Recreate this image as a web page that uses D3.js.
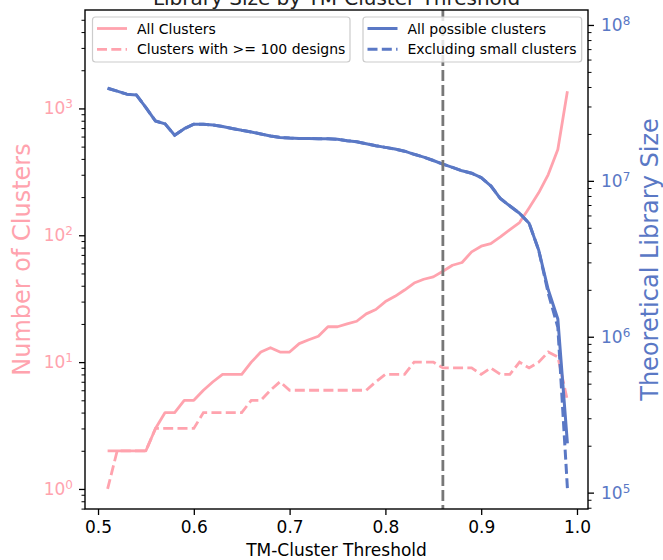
<!DOCTYPE html>
<html>
<head>
<meta charset="utf-8">
<script src="https://cdn.jsdelivr.net/npm/d3@7"></script>
<style>
body {margin:0;background:#fff;}
svg text {font-family:"DejaVu Sans", sans-serif;}
</style>
</head>
<body>
<svg id="chart" width="663" height="560"></svg>
<script>
// data
var thresholds = [0.51, 0.52, 0.53, 0.54, 0.55, 0.56, 0.57, 0.58, 0.59, 0.60,
	0.61, 0.62, 0.63, 0.64, 0.65, 0.66, 0.67, 0.68, 0.69, 0.70,
	0.71, 0.72, 0.73, 0.74, 0.75, 0.76, 0.77, 0.78, 0.79, 0.80,
	0.81, 0.82, 0.83, 0.84, 0.85, 0.86, 0.87, 0.88, 0.89, 0.90,
	0.91, 0.92, 0.93, 0.94, 0.95, 0.96, 0.97, 0.98, 0.99];
var allClusters = [2, 2, 2, 2, 2, 3, 4, 4, 5, 5,
	6, 7, 8, 8, 8, 10, 12, 13, 12, 12,
	14, 15, 16, 19, 19, 20, 21, 24, 26, 30,
	33, 37, 42, 45, 47, 52, 58, 61, 74, 82,
	86, 97, 111, 126, 164, 216, 301, 474, 1368];
var bigClusters = [1, 2, 2, 2, 2, 3, 3, 3, 3, 3,
	4, 4, 4, 4, 4, 5, 5, 6, 7, 6,
	6, 6, 6, 6, 6, 6, 6, 6, 7, 8,
	8, 8, 10, 10, 10, 9, 9, 9, 9, 8,
	9, 8, 8, 10, 9, 10, 12, 11, 5];
var allLibrary = [3.93e7, 3.76e7, 3.6e7, 3.56e7, 2.95e7, 2.42e7, 2.32e7, 1.96e7, 2.16e7, 2.31e7,
	2.31e7, 2.28e7, 2.23e7, 2.17e7, 2.11e7, 2.06e7, 2.0e7, 1.94e7, 1.9e7, 1.88e7,
	1.87e7, 1.87e7, 1.86e7, 1.86e7, 1.85e7, 1.81e7, 1.78e7, 1.73e7, 1.68e7, 1.64e7,
	1.6e7, 1.55e7, 1.48e7, 1.42e7, 1.35e7, 1.28e7, 1.22e7, 1.16e7, 1.12e7, 1.05e7,
	9.3e6, 7.7e6, 6.9e6, 6.2e6, 5.35e6, 3.6e6, 2.0e6, 1.3e6, 2.07e5];
var exclLibrary = [3.93e7, 3.76e7, 3.6e7, 3.56e7, 2.95e7, 2.42e7, 2.32e7, 1.96e7, 2.16e7, 2.31e7,
	2.31e7, 2.28e7, 2.23e7, 2.17e7, 2.11e7, 2.06e7, 2.0e7, 1.94e7, 1.9e7, 1.88e7,
	1.87e7, 1.87e7, 1.86e7, 1.86e7, 1.85e7, 1.81e7, 1.78e7, 1.73e7, 1.68e7, 1.64e7,
	1.6e7, 1.55e7, 1.48e7, 1.42e7, 1.35e7, 1.28e7, 1.22e7, 1.16e7, 1.12e7, 1.05e7,
	9.3e6, 7.7e6, 6.9e6, 6.2e6, 5.35e6, 3.6e6, 1.9e6, 1.15e6, 1.07e5];
var xTicks = [0.5, 0.6, 0.7, 0.8, 0.9, 1.0];
var leftTicks = [1, 10, 100, 1000];
var rightTicks = [1e5, 1e6, 1e7, 1e8];
var chosenThreshold = 0.86;

var pink = "#ffa3ae",
	blue = "#5a78c5";

// plot box (note: "top" is reserved on window, so use other names)
var pLeft = 85, pRight = 588, pTop = 10, pBottom = 509;
var svg = d3.select("#chart");

var x = d3.scaleLinear().domain([0.4864, 1.0115]).range([pLeft, pRight]);
var yLeft = d3.scaleLog().domain([Math.pow(10, -0.158), Math.pow(10, 3.776)]).range([pBottom, pTop]);
var yRight = d3.scaleLog().domain([Math.pow(10, 4.895), Math.pow(10, 8.096)]).range([pBottom, pTop]);

function minorTicks(scale) {
	var d = scale.domain(), out = [];
	for (var k = Math.floor(Math.log10(d[0])); k <= Math.ceil(Math.log10(d[1])); k++) {
		for (var m = 2; m <= 9; m++) {
			var v = m * Math.pow(10, k);
			if (v >= d[0] && v <= d[1]) out.push(v);
		}
	}
	return out;
}

function powLabels(sel) {
	sel.selectAll(".tick text").each(function(d) {
		var t = d3.select(this);
		t.text("");
		t.append("tspan").text("10");
		t.append("tspan").attr("dy", "-0.5em").style("font-size", "12px").text(Math.round(Math.log10(d)));
	});
}

function styleAxis(g, color) {
	g.select(".domain").remove();
	g.selectAll(".tick line").attr("stroke", "#000").attr("stroke-width", 1.3);
	g.selectAll(".tick text").attr("fill", color).style("font-size", "17px");
}

function lineOf(values, scale) {
	return d3.line()
		.x(function(d, i) {return x(thresholds[i]);})
		.y(function(d) {return scale(d);})(values);
}

// title, mostly cut off at the top like the reference
svg.append("text")
	.attr("x", (pLeft + pRight) / 2)
	.attr("y", 5)
	.attr("text-anchor", "middle")
	.style("font-size", "20px")
	.attr("fill", "#222")
	.text("Library Size by TM-Cluster Threshold");

// cluster counts (left axis)
svg.append("path")
	.attr("d", lineOf(allClusters, yLeft))
	.attr("fill", "none").attr("stroke", pink).attr("stroke-width", 2.8)
	.attr("stroke-linejoin", "round");
svg.append("path")
	.attr("d", lineOf(bigClusters, yLeft))
	.attr("fill", "none").attr("stroke", pink).attr("stroke-width", 2.8)
	.attr("stroke-dasharray", "10,4.3");

function legend(x0, y0, w, items) {
	var g = svg.append("g");
	g.append("rect")
		.attr("x", x0).attr("y", y0).attr("width", w).attr("height", 45)
		.attr("rx", 3)
		.attr("fill", "#fff").attr("fill-opacity", 0.8)
		.attr("stroke", "#cccccc").attr("stroke-width", 1.2);
	items.forEach(function(it, i) {
		var yy = y0 + 11.5 + i * 20.8;
		g.append("line")
			.attr("x1", x0 + 4.5).attr("x2", x0 + 34.5)
			.attr("y1", yy).attr("y2", yy)
			.attr("stroke", it.color).attr("stroke-width", it.width)
			.attr("stroke-dasharray", it.dash ? "10,4.3" : null);
		g.append("text")
			.attr("x", x0 + 44.5).attr("y", yy + 5)
			.style("font-size", "14px").attr("fill", "#000")
			.text(it.name);
	});
}
legend(92.5, 17, 257.5, [
	{name: "All Clusters", color: pink, width: 2.8, dash: false},
	{name: "Clusters with >= 100 designs", color: pink, width: 2.8, dash: true}
]);

// left and bottom axes
var gx = svg.append("g")
	.attr("transform", "translate(0," + pBottom + ")")
	.call(d3.axisBottom(x).tickValues(xTicks).tickFormat(d3.format(".1f")).tickSize(6).tickPadding(6));
styleAxis(gx, "#000");

var gl = svg.append("g")
	.attr("transform", "translate(" + pLeft + ",0)")
	.call(d3.axisLeft(yLeft).tickValues(leftTicks).tickSize(6).tickPadding(6));
styleAxis(gl, pink);
powLabels(gl);
var glm = svg.append("g")
	.attr("transform", "translate(" + pLeft + ",0)")
	.call(d3.axisLeft(yLeft).tickValues(minorTicks(yLeft)).tickSize(3.5).tickFormat(""));
styleAxis(glm, pink);
glm.selectAll(".tick line").attr("stroke-width", 1);

svg.append("text")
	.attr("transform", "translate(22," + ((pTop + pBottom) / 2) + ") rotate(-90)")
	.attr("text-anchor", "middle")
	.attr("dy", "0.35em")
	.style("font-size", "24px")
	.attr("fill", pink)
	.text("Number of Clusters");

svg.append("text")
	.attr("x", (pLeft + pRight) / 2)
	.attr("y", 556)
	.attr("text-anchor", "middle")
	.style("font-size", "17px")
	.attr("fill", "#000")
	.text("TM-Cluster Threshold");

// library size (right axis)
svg.append("path")
	.attr("d", lineOf(allLibrary, yRight))
	.attr("fill", "none").attr("stroke", blue).attr("stroke-width", 3)
	.attr("stroke-linejoin", "round");
svg.append("path")
	.attr("d", lineOf(exclLibrary, yRight))
	.attr("fill", "none").attr("stroke", blue).attr("stroke-width", 3)
	.attr("stroke-dasharray", "10,4.3");

// chosen threshold
svg.append("line")
	.attr("x1", x(chosenThreshold)).attr("x2", x(chosenThreshold))
	.attr("y1", pTop).attr("y2", pBottom)
	.attr("stroke", "#777").attr("stroke-width", 2.8)
	.attr("stroke-dasharray", "11,4");

legend(363, 17, 218.7, [
	{name: "All possible clusters", color: blue, width: 3, dash: false},
	{name: "Excluding small clusters", color: blue, width: 3, dash: true}
]);

var gr = svg.append("g")
	.attr("transform", "translate(" + pRight + ",0)")
	.call(d3.axisRight(yRight).tickValues(rightTicks).tickSize(6).tickPadding(7));
styleAxis(gr, blue);
powLabels(gr);
var grm = svg.append("g")
	.attr("transform", "translate(" + pRight + ",0)")
	.call(d3.axisRight(yRight).tickValues(minorTicks(yRight)).tickSize(3.5).tickFormat(""));
styleAxis(grm, blue);
grm.selectAll(".tick line").attr("stroke-width", 1);

svg.append("text")
	.attr("transform", "translate(650," + ((pTop + pBottom) / 2) + ") rotate(-90)")
	.attr("text-anchor", "middle")
	.attr("dy", "0.35em")
	.style("font-size", "24px")
	.attr("fill", blue)
	.text("Theoretical Library Size");

// frame
svg.append("rect")
	.attr("x", pLeft).attr("y", pTop)
	.attr("width", pRight - pLeft).attr("height", pBottom - pTop)
	.attr("fill", "none").attr("stroke", "#000").attr("stroke-width", 1.4);
</script>
</body>
</html>
